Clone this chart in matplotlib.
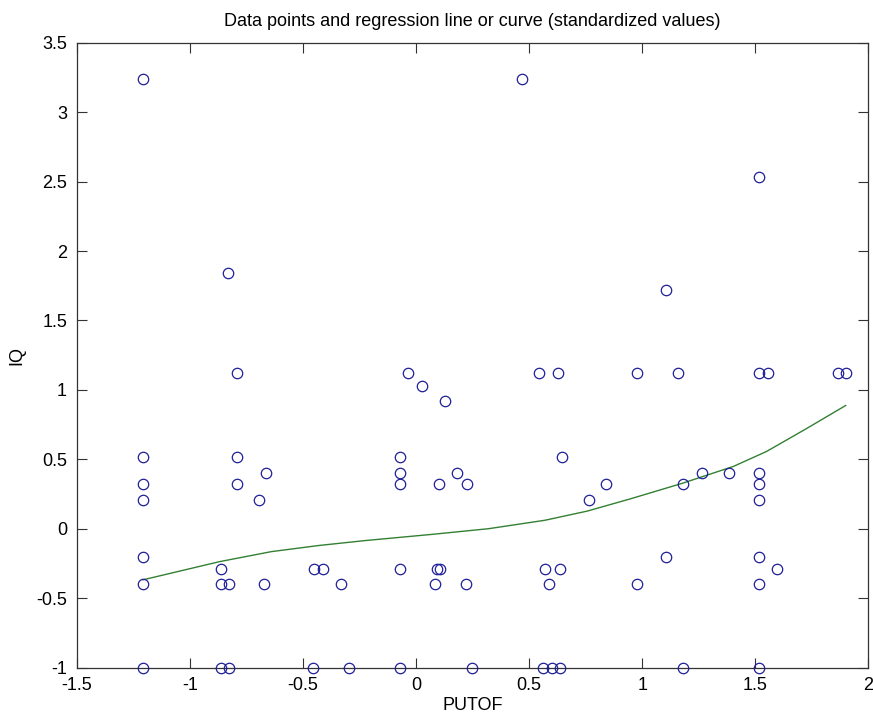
import matplotlib
matplotlib.use("Agg")
import matplotlib.pyplot as plt

plt.rcParams['font.family'] = ['Liberation Sans', 'DejaVu Sans']

# standardized data points
putof = [-1.206, -0.830, 0.467, 1.518, 1.105,
         -1.206, -1.206, -1.206, -1.206, -1.206, -1.206,
         -0.790, -0.790, -0.790,
         -0.864, -0.864, -0.864,
         -0.828, -0.828,
         -0.665, -0.696, -0.671,
         -0.451, -0.454, -0.411, -0.330, -0.295,
         -0.071, -0.071, -0.071, -0.071, -0.071,
         -0.034, 0.027, 0.128,
         0.100, 0.095, 0.105, 0.085,
         0.183, 0.224, 0.221, 0.249,
         0.544, 0.626, 0.644, 0.569, 0.635, 0.589, 0.560, 0.600, 0.638,
         0.763, 0.841, 0.977, 0.977, 1.157, 1.105, 1.180, 1.180, 1.263, 1.384,
         1.518, 1.518, 1.518, 1.518, 1.518, 1.518, 1.518,
         1.558, 1.595, 1.864, 1.900]
iq = [3.24, 1.84, 3.24, 2.53, 1.72,
      0.52, 0.32, 0.21, -0.20, -0.40, -1.0,
      1.12, 0.52, 0.32,
      -0.29, -0.40, -1.0,
      -0.40, -1.0,
      0.40, 0.21, -0.40,
      -0.29, -1.0, -0.29, -0.40, -1.0,
      0.52, 0.40, 0.32, -0.29, -1.0,
      1.12, 1.03, 0.92,
      0.32, -0.29, -0.29, -0.40,
      0.40, 0.32, -0.40, -1.0,
      1.12, 1.12, 0.52, -0.29, -0.29, -0.40, -1.0, -1.0, -1.0,
      0.21, 0.32, 1.12, -0.40, 1.12, -0.20, 0.32, -1.0, 0.40, 0.40,
      1.12, 0.40, 0.32, 0.21, -0.20, -0.40, -1.0,
      1.12, -0.29, 1.12, 1.12]

# regression curve samples
curve_x = [-1.207, -0.868, -0.639, -0.430, -0.222, 0.070, 0.321, 0.571,
           0.758, 0.946, 1.176, 1.403, 1.550, 1.727, 1.900]
curve_y = [-0.367, -0.236, -0.164, -0.120, -0.084, -0.040, 0.001, 0.062,
           0.128, 0.215, 0.327, 0.449, 0.557, 0.722, 0.888]

fig = plt.figure(figsize=(8.73, 7.19), dpi=100)
ax = fig.add_axes([0.0879, 0.0713, 0.9067, 0.8693])

ax.plot(putof, iq, 'o', mfc='none', mec=(0.12, 0.12, 0.6), ms=7.5, mew=0.9, clip_on=False, zorder=3)
ax.plot(curve_x, curve_y, '-', color=(0.2, 0.5, 0.2), lw=1.0, zorder=2)

ax.set_xlim(-1.5, 2)
ax.set_ylim(-1, 3.5)
ax.set_xticks([-1.5, -1, -0.5, 0, 0.5, 1, 1.5, 2])
ax.set_xticklabels(['-1.5', '-1', '-0.5', '0', '0.5', '1', '1.5', '2'])
ax.set_yticks([-1, -0.5, 0, 0.5, 1, 1.5, 2, 2.5, 3, 3.5])
ax.set_yticklabels(['-1', '-0.5', '0', '0.5', '1', '1.5', '2', '2.5', '3', '3.5'])
ax.tick_params(direction='in', length=7, width=0.8, top=True, right=True,
               labelsize=13, pad=7, color='#333333')
for s in ax.spines.values():
    s.set_color('#333333')
    s.set_linewidth(0.9)

ax.set_title('Data points and regression line or curve (standardized values)', fontsize=13, pad=12)
ax.set_xlabel('PUTOF', fontsize=13, labelpad=2)
ax.set_ylabel('IQ', fontsize=13, labelpad=8)

fig.savefig('out.png', dpi=100)
